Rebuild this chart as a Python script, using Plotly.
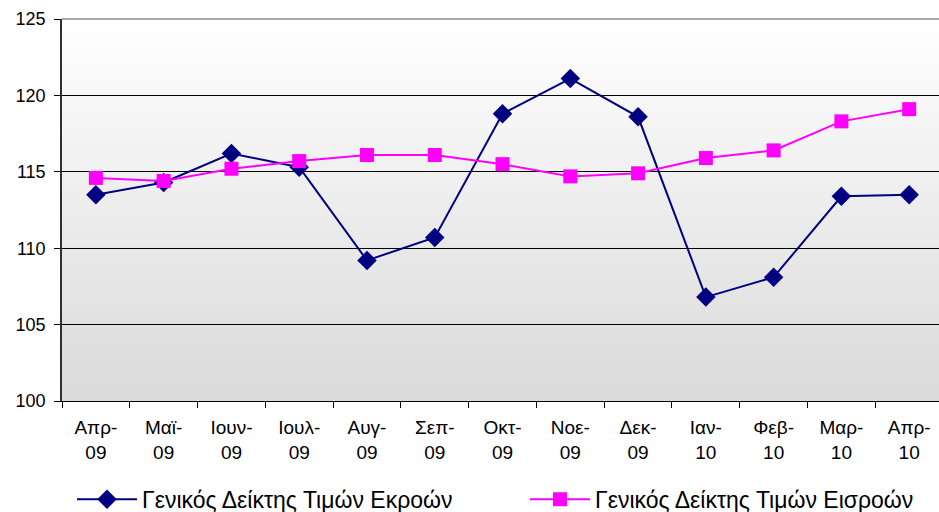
import plotly.graph_objects as go

categories = ["Απρ-<br>09", "Μαϊ-<br>09", "Ιουν-<br>09", "Ιουλ-<br>09", "Αυγ-<br>09", "Σεπ-<br>09",
              "Οκτ-<br>09", "Νοε-<br>09", "Δεκ-<br>09", "Ιαν-<br>10", "Φεβ-<br>10", "Μαρ-<br>10", "Απρ-<br>10"]
outputs_index = [113.5, 114.3, 116.2, 115.3, 109.2, 110.7, 118.8, 121.1, 118.6, 106.8, 108.1, 113.4, 113.5]
inputs_index = [114.6, 114.4, 115.2, 115.7, 116.1, 116.1, 115.5, 114.7, 114.9, 115.9, 116.4, 118.3, 119.1]
series_names = ["Γενικός Δείκτης Τιμών Εκροών", "Γενικός Δείκτης Τιμών Εισροών"]
y_ticks = [100, 105, 110, 115, 120, 125]

FONT = "Liberation Sans, Arial, sans-serif"

fig = go.Figure()
fig.add_trace(go.Scatter(
    x=categories, y=outputs_index, name=series_names[0], legend="legend",
    mode="lines+markers", line=dict(color="#000080", width=2),
    marker=dict(symbol="diamond", size=15, color="#000080"),
))
fig.add_trace(go.Scatter(
    x=categories, y=inputs_index, name=series_names[1], legend="legend2",
    mode="lines+markers", line=dict(color="#FF00FF", width=2),
    marker=dict(symbol="square", size=14, color="#FF00FF"),
))

# vertical gradient background of the plot area (white at top -> light grey at bottom)
shapes = []
n = 60
for i in range(n):
    f0 = i / n
    f1 = (i + 1) / n
    fm = (f0 + f1) / 2  # fraction from bottom
    v = int(round(218 + (255 - 218) * fm))
    shapes.append(dict(type="rect", xref="x domain", yref="y domain",
                       x0=0, x1=1, y0=f0, y1=f1 + 0.002,
                       fillcolor=f"rgb({v},{v},{v})", line=dict(width=0), layer="below"))
shapes.append(dict(type="line", xref="x domain", yref="y domain", x0=0, x1=1, y0=1, y1=1,
                   line=dict(color="#8c8c8c", width=1.5), layer="above"))

legend_common = dict(orientation="h", xref="container", yref="container", xanchor="left",
                     y=0.025, yanchor="middle", font=dict(size=23, family=FONT),
                     itemwidth=60, bgcolor="rgba(0,0,0,0)")

fig.update_layout(
    width=939, height=512,
    margin=dict(l=62, r=0, t=19, b=111),
    paper_bgcolor="white", plot_bgcolor="rgba(0,0,0,0)",
    font=dict(family=FONT, color="black"),
    shapes=shapes,
    showlegend=True,
    legend=dict(x=72 / 939, **legend_common),
    legend2=dict(x=525 / 939, **legend_common),
)
fig.update_xaxes(
    type="category", tickson="boundaries", range=[-0.5, 12.44],
    showgrid=False, zeroline=False, automargin=False,
    showline=True, linecolor="black", linewidth=1,
    ticks="outside", ticklen=6, tickcolor="black", ticklabelstandoff=9,
    tickfont=dict(size=19, family=FONT),
)
fig.update_yaxes(
    range=[100, 125], tickvals=y_ticks, showgrid=True, gridcolor="black", gridwidth=1,
    zeroline=False, showline=True, linecolor="#303030", linewidth=1.5, automargin=False,
    ticks="outside", ticklen=6, tickcolor="black", ticklabelstandoff=5,
    tickfont=dict(size=18, family=FONT),
)

fig.write_html("out.html", config={"displayModeBar": False},
               post_script="document.body.style.margin='0';")
